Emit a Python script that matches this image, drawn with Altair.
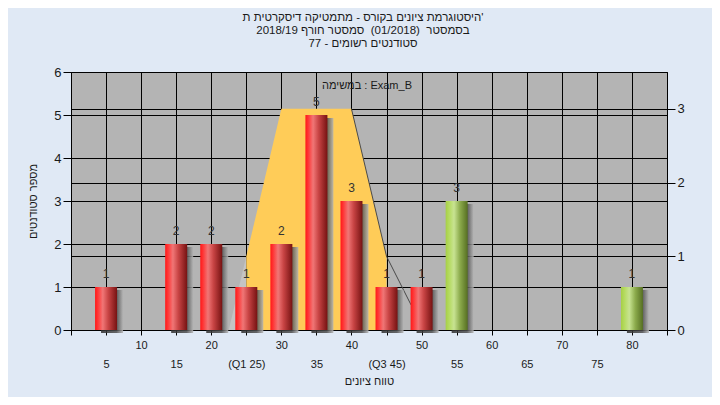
import altair as alt
import pandas as pd

FONT = "Liberation Sans"
TXT = "#1a1a1a"

# ---- data ----
grades = [5, 10, 15, 20, 25, 30, 35, 40, 45, 50, 55, 60, 65, 70, 75, 80]
counts = [1, 0, 2, 2, 1, 2, 5, 3, 1, 1, 3, 0, 0, 0, 0, 1]
pass_mark = 55

tick_values = [0, 5, 10, 15, 20, 25, 30, 35, 40, 45, 50, 55, 60, 65, 70, 75, 80, 85]
tick_labels = ["", "5", "10", "15", "20", "(Q1 25)", "30", "35", "40", "(Q3 45)",
               "50", "55", "60", "65", "70", "75", "80", ""]
lower_row = [5, 15, 25, 35, 45, 55, 65, 75]

left_ticks = [0, 1, 2, 3, 4, 5, 6]
right_ticks = [0, 1, 2, 3]

curve_x = [25, 30, 40, 45]
curve_y = [1, 3, 3, 1]
tail_left_x = [22.5, 25]
tail_left_y = [0, 1]
tail_right_x = [40, 45, 48.5]
tail_right_y = [3, 1, 0.34]

title_lines = [
    "היסטוגרמת ציונים בקורס - מתמטיקה דיסקרטית ת'",
    "בסמסטר\u00a0 (01/2018)\u00a0 סמסטר חורף 2018/19",
    "סטודנטים רשומים - 77",
]
legend_label = "במשימה : Exam_B"
x_title = "טווח ציונים"
y_title = "מספר סטודנטים"

# ---- tables ----
bars_df = pd.DataFrame({"grade": grades, "count": counts})
bars_df = bars_df[bars_df["count"] > 0]
red_df = bars_df[bars_df["grade"] < pass_mark]
green_df = bars_df[bars_df["grade"] >= pass_mark]
curve_df = pd.DataFrame({"grade": curve_x, "v": curve_y})
left_tail_df = pd.DataFrame({"grade": tail_left_x, "v": tail_left_y})
right_tail_df = pd.DataFrame({"grade": tail_right_x, "v": tail_right_y})

label_expr = ""
for v, lab in zip(tick_values, tick_labels):
    label_expr += f"datum.value == {v} ? '{lab}' : "
label_expr += "''"
lower_test = " || ".join(f"datum.value == {v}" for v in lower_row)

x_enc = alt.X(
    "grade:Q",
    scale=alt.Scale(domain=[0, 85], nice=False, zero=False, padding=0),
    axis=alt.Axis(
        values=tick_values, labelExpr=label_expr, grid=True, gridColor="black",
        gridWidth=1, tickSize=5, tickColor="black", domain=False,
        labelFont=FONT, labelFontSize=11, labelColor=TXT, labelOverlap=False,
        labelFlush=False, labelBound=False,
        labelPadding={"condition": {"test": lower_test, "value": 23}, "value": 4},
        title=x_title, titleFont=FONT, titleFontSize=11, titleFontWeight="normal",
        titleColor=TXT, titleX=298, titleY=51, titleBaseline="middle",
        titleAlign="center",
    ),
)

y_left = alt.Y(
    "count:Q",
    scale=alt.Scale(domain=[0, 6], nice=False, padding=0),
    axis=alt.Axis(
        orient="left", values=left_ticks, grid=True, gridColor="black", gridWidth=1,
        tickSize=8, tickColor="black", domain=False, labelFont=FONT,
        labelFontSize=13, labelColor=TXT, labelPadding=2,
        title=y_title, titleFont=FONT, titleFontSize=11, titleFontWeight="normal",
        titleColor=TXT, titleX=-38, titleY=129, titleAngle=-90,
        titleBaseline="middle", titleAlign="center",
    ),
)

y_right = alt.Y(
    "v:Q",
    scale=alt.Scale(domain=[0, 3.5], nice=False, padding=0),
    axis=alt.Axis(
        orient="right", values=right_ticks, grid=True, gridColor="black",
        gridWidth=1, tickSize=8, tickColor="black", domain=False, labelFont=FONT,
        labelFontSize=13, labelColor=TXT, labelPadding=2, title=None,
    ),
)

def grad(stops):
    return alt.LinearGradient(
        gradient="linear", x1=0, x2=1, y1=0, y2=0,
        stops=[alt.GradientStop(offset=o, color=c) for o, c in stops],
    )

red_grad = grad([(0, "#ff1818"), (0.12, "#ff3434"), (0.35, "#f07676"),
                 (0.6, "#c84444"), (1, "#761212")])
green_grad = grad([(0, "#a6cf46"), (0.15, "#b4da5e"), (0.38, "#c8e392"),
                   (0.65, "#8cab4c"), (1, "#566f22")])
shadow_grad = grad([(0, "#2e2e2e"), (0.7, "#4c4c4c"), (1, "#b4b4b4")])

# right-axis group (distribution shape)
tri = alt.Chart(left_tail_df).mark_area(color="#c4c4c4").encode(x=x_enc, y=y_right)
area = alt.Chart(curve_df).mark_area(color="#ffcc58").encode(x=x_enc, y=y_right)
tail = alt.Chart(right_tail_df).mark_line(color="#4a4a4a", strokeWidth=1).encode(
    x=x_enc, y=y_right)
right_group = alt.layer(tri, area, tail)

# left-axis group (histogram)
shadow = alt.Chart(bars_df).mark_bar(size=22, xOffset=6, yOffset=3, fill=shadow_grad,
                                     opacity=0.85).encode(x=x_enc, y=y_left)
red = alt.Chart(red_df).mark_bar(size=22, fill=red_grad).encode(x=x_enc, y=y_left)
green = alt.Chart(green_df).mark_bar(size=22, fill=green_grad).encode(x=x_enc, y=y_left)
labels = alt.Chart(bars_df).mark_text(dy=-13, font=FONT, fontSize=12,
                                      color="#333333").encode(
    x=x_enc, y=y_left, text="count:Q")
legend = alt.Chart(pd.DataFrame({"t": [legend_label]})).mark_text(
    font=FONT, fontSize=11, color=TXT, align="center", baseline="middle"
).encode(x=alt.value(296), y=alt.value(14), text="t:N")
left_group = alt.layer(shadow, red, green, labels, legend)

chart = (
    alt.layer(right_group, left_group)
    .resolve_scale(y="independent")
    .properties(
        width=596, height=258,
        autosize=alt.AutoSizeParams(type="none"),
        padding={"left": 63, "top": 64, "right": 45, "bottom": 67},
        background="#e0e9f5",
        title=alt.TitleParams(
            text=title_lines, font=FONT, fontSize=11.5, fontWeight="normal",
            color=TXT, anchor="middle", lineHeight=13, offset=17, dx=-6,
        ),
    )
    .configure_view(stroke="black", strokeWidth=1, fill="#b4b4b4")
)

chart.save("out.html", embed_options={"renderer": "svg", "actions": False})
